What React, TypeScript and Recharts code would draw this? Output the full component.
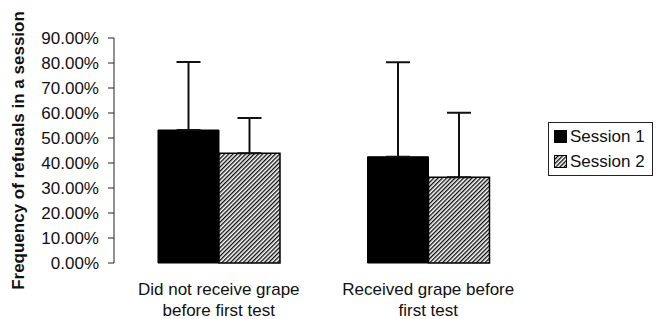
import { Bar, BarChart, ErrorBar, XAxis, YAxis } from "recharts";

// Values (percent)
const categories = [
  "Did not receive grape\nbefore first test",
  "Received grape before\nfirst test",
];
const session1 = [53.2, 42.5];
const session1Err = [27.2, 37.8];
const session2 = [43.9, 34.3];
const session2Err = [14.1, 25.8];
const yTicks = [0, 10, 20, 30, 40, 50, 60, 70, 80, 90];
const seriesNames = ["Session 1", "Session 2"];

const data = categories.map((name, i) => ({
  name,
  edge: i + 0.5,
  s1: session1[i],
  s1Err: [0, session1Err[i]],
  s2: session2[i],
  s2Err: [0, session2Err[i]],
}));

const FONT = "'Liberation Sans', Arial, sans-serif";
const AXIS = "#222";

function CategoryTick(props: any) {
  const { x, y, payload } = props;
  const lines = String(payload.value).split("\n");
  return (
    <text x={x} y={y} textAnchor="middle" fontFamily={FONT} fontSize={17} fill="#111">
      {lines.map((l, i) => (
        <tspan key={i} x={x} dy={i === 0 ? 24 : 21}>
          {l}
        </tspan>
      ))}
    </text>
  );
}

// legend drawn as a plain overlay so it doesn't eat into the plot area
function LegendBox() {
  return (
    <div
      style={{
        position: "absolute",
        left: 548,
        top: 122,
        border: "1px solid #222",
        width: 98,
        padding: "1px 0 1px 5px",
        fontFamily: FONT,
        fontSize: 17,
        lineHeight: "20px",
        color: "#111",
        background: "#fff",
      }}
    >
      {seriesNames.map((n, i) => (
        <div key={n} style={{ display: "flex", alignItems: "center", height: 25 }}>
          <svg width={13} height={13} style={{ marginRight: 3 }}>
            <rect
              x={0.5}
              y={0.5}
              width={12}
              height={12}
              fill={i === 0 ? "#000" : "url(#hatch)"}
              stroke="#000"
            />
          </svg>
          <span>{n}</span>
        </div>
      ))}
    </div>
  );
}

export default function App() {
  return (
    <div style={{ position: "absolute", left: 0, top: 0, width: 657, height: 319, background: "#fff" }}>
      <BarChart
        width={657}
        height={319}
        data={data}
        margin={{ top: 38, right: 124, bottom: 0, left: 0 }}
        barCategoryGap="21%"
        barGap={0}
      >
        <defs>
          <pattern
            id="hatch"
            patternUnits="userSpaceOnUse"
            width={3}
            height={3}
            patternTransform="rotate(45)"
          >
            <rect width={3} height={3} fill="#fff" />
            <line x1={0.7} y1={0} x2={0.7} y2={3} stroke="#000" strokeWidth={1.3} />
          </pattern>
        </defs>
        <XAxis
          xAxisId="edge"
          dataKey="edge"
          type="number"
          domain={[0, 2]}
          ticks={[0, 1, 2]}
          height={0}
          tickSize={5}
          tickFormatter={() => ""}
          axisLine={{ stroke: AXIS }}
          tickLine={{ stroke: AXIS }}
        />
        <XAxis
          dataKey="name"
          height={56}
          axisLine={false}
          tickLine={false}
          interval={0}
          tick={<CategoryTick />}
        />
        <YAxis
          width={114}
          domain={[0, 90]}
          ticks={yTicks}
          interval={0}
          tickFormatter={(v: number) => `${v.toFixed(2)}%`}
          tickSize={6}
          tickMargin={9}
          tick={{ fontFamily: FONT, fontSize: 17, fill: "#111" }}
          axisLine={{ stroke: AXIS }}
          tickLine={{ stroke: AXIS }}
          label={{
            value: "Frequency of refusals in a session",
            angle: -90,
            position: "insideLeft",
            offset: 18,
            style: {
              textAnchor: "middle",
              fontFamily: FONT,
              fontSize: 17,
              fontWeight: "bold",
              fill: "#111",
            },
          }}
        />
        <Bar dataKey="s1" name="Session 1" fill="#000" stroke="#000" isAnimationActive={false}>
          <ErrorBar dataKey="s1Err" width={12} stroke="#111" strokeWidth={2} />
        </Bar>
        <Bar
          dataKey="s2"
          name="Session 2"
          fill="url(#hatch)"
          stroke="#000"
          strokeWidth={1.5}
          isAnimationActive={false}
        >
          <ErrorBar dataKey="s2Err" width={12} stroke="#111" strokeWidth={2} />
        </Bar>
      </BarChart>
      <LegendBox />
    </div>
  );
}
